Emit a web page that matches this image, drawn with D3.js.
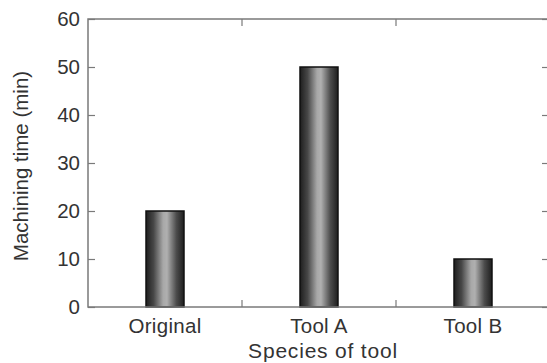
<!DOCTYPE html>
<html><head><meta charset="utf-8">
<script src="https://cdn.jsdelivr.net/npm/d3@7"></script>
<style>body{margin:0;background:#fff;} svg{display:block;font-family:"Liberation Sans",Arial,sans-serif;}</style>
</head><body><svg id="c" width="547" height="363"></svg>
<script>
const categories = ["Original", "Tool A", "Tool B"];
const values = [20, 50, 10];
const yTicks = [0, 10, 20, 30, 40, 50, 60];

const svg = d3.select("#c");
const m = {l: 88, r: 550, t: 19, b: 307};
const x = d3.scaleBand().domain(categories).range([m.l, m.r]).paddingInner(0).paddingOuter(0);
const y = d3.scaleLinear().domain([0, 60]).range([m.b, m.t]);
const bw = 38;
const font = "Liberation Sans, Arial, sans-serif";

const defs = svg.append("defs");
const g = defs.append("linearGradient").attr("id", "cyl").attr("x1", "0").attr("x2", "1").attr("y1", "0").attr("y2", "0");
[[0, "#1e1e1e"], [0.2, "#474747"], [0.45, "#a8a8a8"], [0.55, "#b0b0b0"], [0.8, "#4c4c4c"], [1, "#1e1e1e"]]
  .forEach(([o, c]) => g.append("stop").attr("offset", o).attr("stop-color", c));

const axisColor = "#7a7a7a";
const textColor = "#333";

// bars
svg.selectAll("rect.bar").data(categories).join("rect")
  .attr("class", "bar")
  .attr("x", (d) => x(d) + x.bandwidth() / 2 - bw / 2)
  .attr("width", bw)
  .attr("y", (d, i) => y(values[i]))
  .attr("height", (d, i) => y(0) - y(values[i]))
  .attr("fill", "url(#cyl)")
  .attr("stroke", "#111").attr("stroke-width", 1.5);

// frame
svg.append("rect").attr("x", m.l).attr("y", m.t).attr("width", m.r - m.l).attr("height", m.b - m.t)
  .attr("fill", "none").attr("stroke", axisColor).attr("stroke-width", 1.5);

// y axis
const ya = svg.append("g").attr("transform", `translate(${m.l},0)`)
  .call(d3.axisLeft(y).tickValues(yTicks).tickSize(-7).tickPadding(8));
ya.select(".domain").remove();
ya.selectAll("line").attr("stroke", axisColor).attr("stroke-width", 1.2);
ya.selectAll("text").attr("fill", textColor).attr("font-size", 20.5).attr("font-family", font);

// right ticks
const yr = svg.append("g").attr("transform", `translate(${m.r},0)`)
  .call(d3.axisRight(y).tickValues(yTicks).tickSize(-8).tickFormat(""));
yr.select(".domain").remove();
yr.selectAll("line").attr("stroke", axisColor).attr("stroke-width", 1.2);

// x separators ticks (between categories)
const seps = categories.slice(1).map((d) => x(d));
svg.selectAll("line.sepb").data(seps).join("line").attr("class", "sepb")
  .attr("x1", (d) => d).attr("x2", (d) => d).attr("y1", m.b).attr("y2", m.b - 7)
  .attr("stroke", axisColor).attr("stroke-width", 1.2);
svg.selectAll("line.sept").data(seps).join("line").attr("class", "sept")
  .attr("x1", (d) => d).attr("x2", (d) => d).attr("y1", m.t).attr("y2", m.t + 7)
  .attr("stroke", axisColor).attr("stroke-width", 1.2);

// x labels
const xa = svg.append("g").attr("transform", `translate(0,${m.b})`)
  .call(d3.axisBottom(x).tickSize(0));
xa.select(".domain").remove();
xa.selectAll("text").attr("dy", null).attr("y", 26)
  .attr("fill", textColor).attr("font-size", 20.5).attr("letter-spacing", 0.3).attr("font-family", font);

// titles
svg.append("text").attr("x", x("Tool A") + x.bandwidth() / 2 + 4).attr("y", 358)
  .attr("text-anchor", "middle").attr("fill", textColor).attr("font-size", 21).attr("letter-spacing", 0.8)
  .attr("font-family", font).text("Species of tool");
svg.append("text").attr("transform", `translate(28,166) rotate(-90)`)
  .attr("text-anchor", "middle").attr("fill", textColor).attr("font-size", 20.5)
  .attr("font-family", font).text("Machining time (min)");
</script></body></html>
